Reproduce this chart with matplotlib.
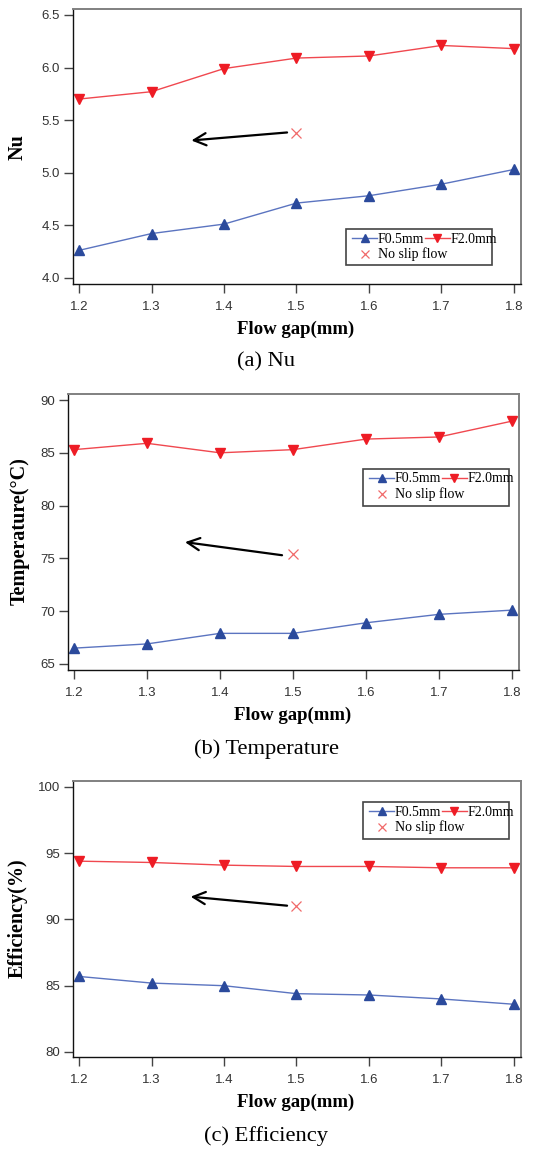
import matplotlib
matplotlib.use("Agg")
import matplotlib.pyplot as plt
from matplotlib.patches import Rectangle

# ---- data ----
flow_gap = [1.2, 1.3, 1.4, 1.5, 1.6, 1.7, 1.8]
x_ticks = [1.2, 1.3, 1.4, 1.5, 1.6, 1.7, 1.8]

nu_f05 = [4.26, 4.42, 4.51, 4.71, 4.78, 4.89, 5.03]
nu_f20 = [5.70, 5.77, 5.99, 6.09, 6.11, 6.21, 6.18]
nu_noslip = [5.38]

temp_f05 = [66.5, 66.9, 67.9, 67.9, 68.9, 69.7, 70.1]
temp_f20 = [85.3, 85.9, 85.0, 85.3, 86.3, 86.5, 88.0]
temp_noslip = [75.4]

eff_f05 = [85.7, 85.2, 85.0, 84.4, 84.3, 84.0, 83.6]
eff_f20 = [94.4, 94.3, 94.1, 94.0, 94.0, 93.9, 93.9]
eff_noslip = [91.0]

noslip_x = [1.5]

W, H = 549, 1149
fig = plt.figure(figsize=(W / 100, H / 100), dpi=100)

SERIF = "Liberation Serif"
SANS = "Liberation Sans"

panels = [
    dict(box=(73, 9, 521, 284), ylim=(3.94, 6.557), yticks=[4.0, 4.5, 5.0, 5.5, 6.0, 6.5],
         yfmt="{:.1f}", f05=nu_f05, f20=nu_f20, ns=nu_noslip, ylabel="Nu",
         ylab_pos=(18, 147), xlab_y=329, cap="(a) Nu", cap_y=362,
         arrow=((1.487, 5.382), (1.355, 5.306)), leg=(346, 229, 492, 265)),
    dict(box=(68, 394, 519, 670), ylim=(64.43, 90.57), yticks=[65, 70, 75, 80, 85, 90],
         yfmt="{:.0f}", f05=temp_f05, f20=temp_f20, ns=temp_noslip, ylabel="Temperature(\u00b0C)",
         ylab_pos=(20, 531), xlab_y=715, cap="(b) Temperature", cap_y=749,
         arrow=((1.485, 75.3), (1.352, 76.54)), leg=(363, 469, 509, 506)),
    dict(box=(73, 781, 521, 1057), ylim=(79.62, 100.45), yticks=[80, 85, 90, 95, 100],
         yfmt="{:.0f}", f05=eff_f05, f20=eff_f20, ns=eff_noslip, ylabel="Efficiency(%)",
         ylab_pos=(18, 918), xlab_y=1102, cap="(c) Efficiency", cap_y=1136,
         arrow=((1.487, 91.04), (1.354, 91.72)), leg=(363, 802, 509, 839)),
]

BLUE_M = "#2b4a9c"
BLUE_L = "#5b74c0"
RED_M = "#ee1c25"
RED_L = "#f0484f"
NS = "#f06a6a"

for p in panels:
    l, t, r, b = p["box"]
    aw, ah = (r - l), (b - t)
    ax = fig.add_axes([l / W, 1 - b / H, aw / W, ah / H])
    ax.set_xlim(1.1917, 1.8097)
    ax.set_ylim(*p["ylim"])
    h1, = ax.plot(flow_gap, p["f05"], color=BLUE_L, lw=1.0, marker="^", ms=6.5,
                  mfc=BLUE_M, mec=BLUE_M, label="F0.5mm", clip_on=False)
    h3, = ax.plot(flow_gap, p["f20"], color=RED_L, lw=1.0, marker="v", ms=6.5,
                  mfc=RED_M, mec=RED_M, label="F2.0mm", clip_on=False)
    h2, = ax.plot(noslip_x, p["ns"], ls="none", marker="x", ms=6.5, mew=0.9,
                  color=NS, label="No slip flow")
    (x0, y0), (x1, y1) = p["arrow"]
    ax.annotate("", xy=(x1, y1), xytext=(x0, y0),
                arrowprops=dict(arrowstyle="->", color="black", lw=1.6,
                                mutation_scale=22, shrinkA=0, shrinkB=0))
    ax.set_xticks(x_ticks)
    ax.set_xticklabels(["{:.1f}".format(v) for v in x_ticks])
    ax.set_yticks(p["yticks"])
    ax.set_yticklabels([p["yfmt"].format(v) for v in p["yticks"]])
    ax.tick_params(axis="both", direction="out", length=6.5, width=1.0,
                   color="#444444", labelcolor="#333333", labelsize=9.5)
    ax.tick_params(axis="x", pad=6)
    ax.tick_params(axis="y", pad=3)
    for lab in ax.get_xticklabels() + ax.get_yticklabels():
        lab.set_fontfamily(SANS)
    for s in ("left", "bottom"):
        ax.spines[s].set_color("#111111")
        ax.spines[s].set_linewidth(1.0)
    for s in ("top", "right"):
        ax.spines[s].set_color("#808080")
        ax.spines[s].set_linewidth(1.4)

    # legend: framed box with two rows drawn as two frameless legends
    ll, lt, lr, lb = p["leg"]
    rect = Rectangle(((ll - l) / aw, (b - lb) / ah), (lr - ll) / aw, (lb - lt) / ah,
                     transform=ax.transAxes, facecolor="white", edgecolor="#444444",
                     lw=1.2, zorder=4, clip_on=False)
    ax.add_patch(rect)
    hx = (ll + 6 - l) / aw
    common = dict(loc="center left", borderaxespad=0, borderpad=0,
                  prop=dict(family=SERIF, size=10), handlelength=1.8,
                  handletextpad=0.05, columnspacing=0.05, frameon=False,
                  markerscale=0.85)
    leg1 = ax.legend(handles=[h1, h3], ncol=2,
                     bbox_to_anchor=(hx, (b - (lt + 10)) / ah), **common)
    leg1.set_zorder(5)
    ax.add_artist(leg1)
    leg2 = ax.legend(handles=[h2], ncol=1,
                     bbox_to_anchor=(hx, (b - (lt + 25.5)) / ah), **common)
    leg2.set_zorder(5)

    # labels
    yx, yy = p["ylab_pos"]
    fig.text(yx / W, 1 - yy / H, p["ylabel"], rotation=90, ha="center", va="center",
             fontfamily=SERIF, fontweight="bold", fontsize=14.5)
    fig.text(((l + r) / 2 - 1) / W, 1 - p["xlab_y"] / H, "Flow gap(mm)", ha="center",
             va="center", fontfamily=SERIF, fontweight="bold", fontsize=13.5)
    fig.text(266 / W, 1 - p["cap_y"] / H, p["cap"], ha="center", va="center",
             fontfamily=SERIF, fontsize=16.2)

fig.savefig("out.png", dpi=100)
